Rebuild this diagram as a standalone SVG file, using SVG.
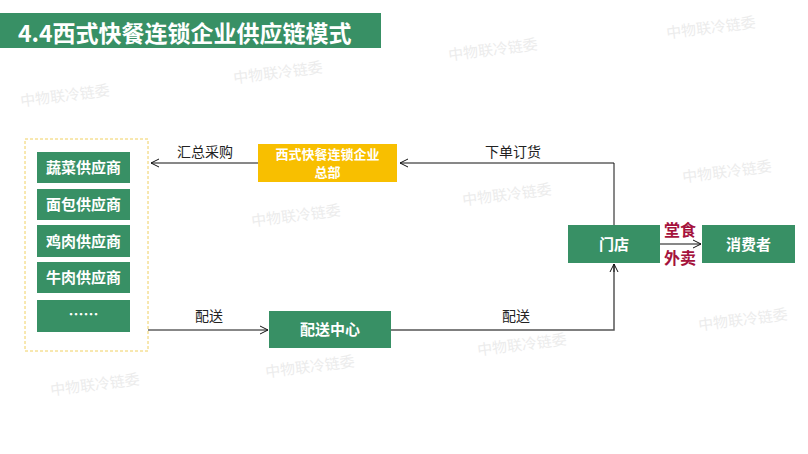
<svg xmlns="http://www.w3.org/2000/svg" width="808" height="454" viewBox="0 0 808 454">
<defs>
<style>
.box{fill:#389065}
.bt{fill:#fff;font-family:"Noto Sans CJK SC","Liberation Sans",sans-serif;font-weight:bold;font-size:15px;text-anchor:middle}
.ht{fill:#fff;font-family:"Noto Sans CJK SC","Liberation Sans",sans-serif;font-weight:bold;font-size:13px;text-anchor:middle}
.lbl{fill:#222;font-family:"Noto Sans CJK SC","Liberation Sans",sans-serif;font-size:14px;text-anchor:middle}
.red{fill:#a5123c;font-family:"Noto Sans CJK SC","Liberation Sans",sans-serif;font-weight:bold;font-size:16px;text-anchor:middle}
.wm{fill:#ececec;font-family:"Noto Sans CJK SC","Liberation Sans",sans-serif;font-size:15px;text-anchor:middle}
.ln{fill:none;stroke:#111;stroke-width:1}
.ln2{fill:none;stroke:#555;stroke-width:1.5}
</style>
<marker id="ah" viewBox="0 0 10 10" refX="9" refY="5" markerWidth="10" markerHeight="10" markerUnits="userSpaceOnUse" orient="auto">
<path d="M1,1 L9,5 L1,9" fill="none" stroke="#111" stroke-width="1"/>
</marker>
</defs>
<rect width="808" height="454" fill="#fff"/>
<g id="watermarks">
<text class="wm" x="278" y="78" transform="rotate(-7 278 73)">中物联冷链委</text>
<text class="wm" x="65" y="101" transform="rotate(-7 65 96)">中物联冷链委</text>
<text class="wm" x="711" y="33" transform="rotate(-7 711 28)">中物联冷链委</text>
<text class="wm" x="493" y="55" transform="rotate(-7 493 50)">中物联冷链委</text>
<text class="wm" x="727" y="177" transform="rotate(-7 727 172)">中物联冷链委</text>
<text class="wm" x="507" y="200" transform="rotate(-7 507 195)">中物联冷链委</text>
<text class="wm" x="296" y="221" transform="rotate(-7 296 216)">中物联冷链委</text>
<text class="wm" x="743" y="325" transform="rotate(-7 743 320)">中物联冷链委</text>
<text class="wm" x="522" y="350" transform="rotate(-7 522 345)">中物联冷链委</text>
<text class="wm" x="310" y="372" transform="rotate(-7 310 367)">中物联冷链委</text>
<text class="wm" x="95" y="390" transform="rotate(-7 95 385)">中物联冷链委</text>
</g>
<g id="title">
<rect x="0" y="13" width="381" height="35" fill="#389065"/>
<text x="18" y="42" fill="#fff" font-family="'Noto Sans CJK SC','Liberation Sans',sans-serif" font-weight="bold" font-size="23">4.4西式快餐连锁企业供应链模式</text>
</g>
<g id="connectors">
<line class="ln" x1="258" y1="163" x2="151" y2="163" marker-end="url(#ah)"/>
<polyline class="ln" points="614,225 614,163 400,163" marker-end="url(#ah)"/>
<line class="ln" x1="148" y1="330" x2="268" y2="330" marker-end="url(#ah)"/>
<polyline class="ln2" points="391,330 614,330 614,264" />
<line class="ln" x1="614" y1="272" x2="614" y2="264" marker-end="url(#ah)"/>
<line class="ln" x1="660" y1="244" x2="701" y2="244" marker-end="url(#ah)"/>
<text class="lbl" x="205" y="157">汇总采购</text>
<text class="lbl" x="513" y="157">下单订货</text>
<text class="lbl" x="209" y="321">配送</text>
<text class="lbl" x="516" y="321">配送</text>
<text class="red" x="680" y="236">堂食</text>
<text class="red" x="680" y="264">外卖</text>
</g>
<g id="suppliers">
<rect x="25" y="139" width="123" height="212" fill="none" stroke="#f0d060" stroke-width="1" stroke-dasharray="3,2"/>
</g>
<g id="s1"><rect class="box" x="37" y="152" width="93" height="31"/><text class="bt" x="83.5" y="173">蔬菜供应商</text></g>
<g id="s2"><rect class="box" x="37" y="189" width="93" height="31"/><text class="bt" x="83.5" y="210">面包供应商</text></g>
<g id="s3"><rect class="box" x="37" y="225" width="93" height="32"/><text class="bt" x="83.5" y="246.5">鸡肉供应商</text></g>
<g id="s4"><rect class="box" x="37" y="262" width="93" height="31"/><text class="bt" x="83.5" y="283">牛肉供应商</text></g>
<g id="s5"><rect class="box" x="37" y="300" width="93" height="32"/><text class="bt" x="83.5" y="320">……</text></g>
<g id="hq"><rect x="258" y="144" width="139" height="38" fill="#f8bf00"/><text class="ht" x="327.5" y="159">西式快餐连锁企业</text><text class="ht" x="327.5" y="177">总部</text></g>
<g id="dc"><rect class="box" x="269" y="311" width="122" height="37"/><text class="bt" x="330" y="335">配送中心</text></g>
<g id="store"><rect class="box" x="568" y="225" width="92" height="38"/><text class="bt" x="614" y="249.5">门店</text></g>
<g id="consumer"><rect class="box" x="702" y="225" width="93" height="38"/><text class="bt" x="748.5" y="249.5">消费者</text></g>
</svg>
